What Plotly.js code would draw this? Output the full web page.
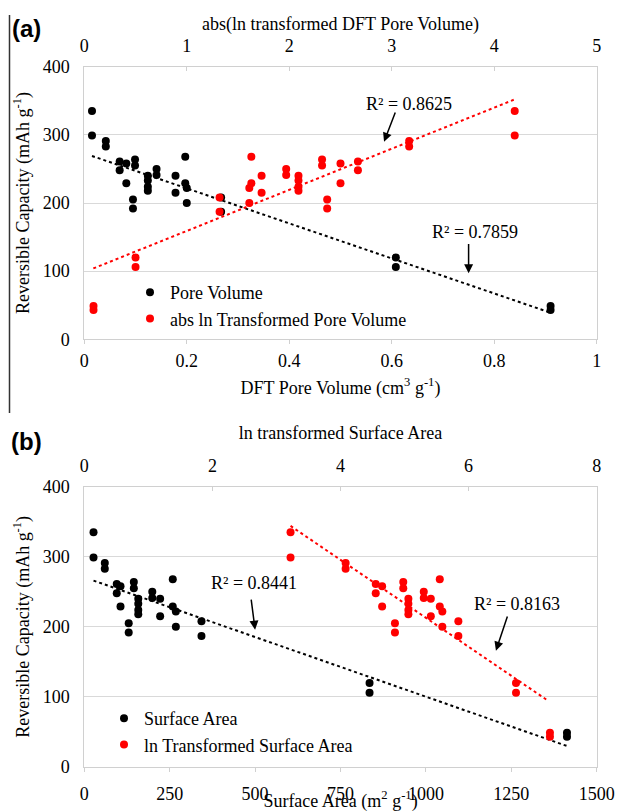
<!DOCTYPE html>
<html>
<head>
<meta charset="utf-8">
<script src="https://cdn.plot.ly/plotly-3.0.1.min.js"></script>
<style>
html,body{margin:0;padding:0;background:#fff;}
#chart{width:618px;height:812px;}
</style>
</head>
<body>
<div id="chart"></div>
<script>
// ---------- DATA ----------
// Reversible capacity of each sample (mAh g-1)
const capacity = [335, 299, 291, 283, 261, 248, 258, 229, 264, 255, 205, 192,
                  240, 233, 224, 218, 250, 241, 240, 215, 268, 229, 222, 200,
                  208, 187, 120, 106, 49, 43];
// Panel (a)
const poreVolume = [0.015, 0.015, 0.042, 0.042, 0.069, 0.069, 0.082, 0.082, 0.099, 0.099, 0.095, 0.095,
                    0.124, 0.124, 0.124, 0.124, 0.141, 0.141, 0.178, 0.178, 0.197, 0.197, 0.200, 0.200,
                    0.267, 0.267, 0.608, 0.608, 0.910, 0.910];
const absLnPoreVolume = [4.20, 4.20, 3.17, 3.17, 2.67, 2.67, 2.50, 2.50, 2.32, 2.32, 2.37, 2.37,
                         2.09, 2.09, 2.09, 2.09, 1.97, 1.97, 1.73, 1.73, 1.63, 1.63, 1.61, 1.61,
                         1.32, 1.32, 0.50, 0.50, 0.09, 0.09];
// Panel (b)
const surfaceArea = [27, 27, 60, 60, 95, 95, 106, 106, 145, 145, 130, 130,
                     158, 158, 158, 158, 199, 199, 222, 222, 259, 259, 268, 268,
                     343, 343, 835, 835, 1413, 1413];
const lnSurfaceArea = [3.22, 3.22, 4.08, 4.08, 4.55, 4.55, 4.65, 4.65, 4.98, 4.98, 4.85, 4.85,
                       5.06, 5.06, 5.06, 5.06, 5.30, 5.30, 5.41, 5.41, 5.55, 5.55, 5.59, 5.59,
                       5.84, 5.84, 6.74, 6.74, 7.27, 7.27];
// Linear trendline end points
const trendPV_x = [0.015, 0.91],  trendPV_y = [269, 39];
const trendLnPV_x = [0.088, 4.2], trendLnPV_y = [104, 352];
const trendSA_x = [27, 1413],     trendSA_y = [266, 30];
const trendLnSA_x = [3.22, 7.25], trendLnSA_y = [344, 94];
// R² labels
const r2Labels = ['R² = 0.8625', 'R² = 0.7859', 'R² = 0.8441', 'R² = 0.8163'];

// ---------- STYLE ----------
const W = 618, H = 812;
const SERIF = 'Liberation Serif';
const px2x = p => p / W;
const px2y = p => 1 - p / H;
const BLACK = '#000000', RED = '#ff0000';
const GRID = '#d9d9d9', FRAME = '#d0d0d0';
const FS = 18;

const mk = (c) => ({color: c, size: 8});

const traces = [
  // panel (a)
  {x: trendPV_x, y: trendPV_y, xaxis: 'x', yaxis: 'y', mode: 'lines', showlegend: false, hoverinfo: 'skip',
   line: {color: BLACK, width: 2, dash: 'dot'}},
  {x: poreVolume, y: capacity, xaxis: 'x', yaxis: 'y', mode: 'markers', name: 'Pore Volume',
   marker: mk(BLACK), legend: 'legend'},
  {x: trendLnPV_x, y: trendLnPV_y, xaxis: 'x2', yaxis: 'y', mode: 'lines', showlegend: false, hoverinfo: 'skip',
   line: {color: RED, width: 2, dash: 'dot'}},
  {x: absLnPoreVolume, y: capacity, xaxis: 'x2', yaxis: 'y', mode: 'markers', name: 'abs ln Transformed Pore Volume',
   marker: mk(RED), legend: 'legend'},
  // panel (b)
  {x: trendSA_x, y: trendSA_y, xaxis: 'x3', yaxis: 'y2', mode: 'lines', showlegend: false, hoverinfo: 'skip',
   line: {color: BLACK, width: 2, dash: 'dot'}},
  {x: surfaceArea, y: capacity, xaxis: 'x3', yaxis: 'y2', mode: 'markers', name: 'Surface Area',
   marker: mk(BLACK), legend: 'legend2'},
  {x: trendLnSA_x, y: trendLnSA_y, xaxis: 'x4', yaxis: 'y2', mode: 'lines', showlegend: false, hoverinfo: 'skip',
   line: {color: RED, width: 2, dash: 'dot'}},
  {x: lnSurfaceArea, y: capacity, xaxis: 'x4', yaxis: 'y2', mode: 'markers', name: 'ln Transformed Surface Area',
   marker: mk(RED), legend: 'legend2'}
];

const xDom = [px2x(84.3), px2x(596.7)];
const yDomA = [px2y(339.3), px2y(66.7)];
const yDomB = [px2y(767), px2y(486.7)];

const tickFont = {family: SERIF, size: FS, color: '#000'};
const titleFont = {family: SERIF, size: FS, color: '#000'};

function xBottom(range, dtick, anchor, title, tls, ts) {
  return {domain: xDom, range: range, dtick: dtick, anchor: anchor, side: 'bottom',
    showgrid: false, zeroline: false, showline: true, linecolor: FRAME, linewidth: 1, mirror: true,
    ticks: 'outside', ticklen: 4, tickcolor: FRAME, tickfont: tickFont, ticklabelstandoff: tls,
    title: {text: title, font: titleFont, standoff: ts}, fixedrange: true};
}
function xTop(range, dtick, over, anchor, title, ts) {
  return {range: range, dtick: dtick, overlaying: over, anchor: anchor, side: 'top',
    showgrid: false, zeroline: false, showline: false,
    ticks: 'inside', ticklen: 4, tickcolor: FRAME, tickfont: tickFont, ticklabelstandoff: 10,
    title: {text: title, font: titleFont, standoff: ts}, fixedrange: true};
}
function yAx(dom, anchor) {
  return {domain: dom, range: [0, 400], dtick: 100, anchor: anchor,
    showgrid: true, gridcolor: GRID, gridwidth: 1, zeroline: false,
    showline: true, linecolor: FRAME, linewidth: 1, mirror: true, ticks: '',
    tickfont: tickFont, ticklabelstandoff: 10,
    title: {text: 'Reversible Capacity (mAh g<sup>-1</sup>)', font: titleFont, standoff: 8}, fixedrange: true};
}

function arrow(xref, yref, ax, ay, x, y) {
  return {xref: xref, yref: yref, axref: xref, ayref: yref, x: x, y: y, ax: ax, ay: ay,
    text: '', showarrow: true, arrowhead: 2, arrowsize: 1.2, arrowwidth: 1.5, arrowcolor: '#000'};
}
function label(xref, yref, x, y, t) {
  return {xref: xref, yref: yref, x: x, y: y, text: t, showarrow: false,
    font: {family: SERIF, size: FS, color: '#000'}, xanchor: 'center', yanchor: 'middle'};
}

const layout = {
  width: W, height: H,
  margin: {l: 0, r: 0, t: 0, b: 0},
  paper_bgcolor: '#fff', plot_bgcolor: '#fff',
  font: {family: SERIF, size: FS, color: '#000'},
  xaxis: xBottom([0, 1], 0.2, 'y', 'DFT Pore Volume (cm<sup>3</sup> g<sup>-1</sup>)', 1, 11),
  xaxis2: xTop([0, 5], 1, 'x', 'y', 'abs(ln transformed DFT Pore Volume)', 0),
  yaxis: yAx(yDomA, 'x'),
  xaxis3: xBottom([0, 1500], 250, 'y2', 'Surface Area (m<sup>2</sup> g<sup>-1</sup>)', 6, 11),
  xaxis4: xTop([0, 8], 2, 'x3', 'y2', 'ln transformed Surface Area', 11),
  yaxis2: yAx(yDomB, 'x3'),
  legend: {x: px2x(130), y: px2y(274), xanchor: 'left', yanchor: 'top', bgcolor: 'rgba(0,0,0,0)',
    font: {family: SERIF, size: FS, color: '#000'}, tracegroupgap: 0},
  legend2: {x: px2x(104), y: px2y(700), xanchor: 'left', yanchor: 'top', bgcolor: 'rgba(0,0,0,0)',
    font: {family: SERIF, size: FS, color: '#000'}, tracegroupgap: 0},
  annotations: [
    label('x', 'y', 0.634, 346, r2Labels[0]),
    arrow('x', 'y', 0.608, 335, 0.585, 290),
    label('x', 'y', 0.763, 157, r2Labels[1]),
    arrow('x', 'y', 0.75, 142, 0.75, 97),
    label('x3', 'y2', 496, 262, r2Labels[2]),
    arrow('x3', 'y2', 488, 241, 500, 196),
    label('x3', 'y2', 1268, 233, r2Labels[3]),
    arrow('x3', 'y2', 1240, 217, 1205, 166),
    {xref: 'paper', yref: 'paper', x: px2x(26), y: px2y(29), text: '<b>(a)</b>', showarrow: false,
     font: {family: 'Liberation Sans', size: 24, color: '#000'}, xanchor: 'center', yanchor: 'middle'},
    {xref: 'paper', yref: 'paper', x: px2x(26), y: px2y(441), text: '<b>(b)</b>', showarrow: false,
     font: {family: 'Liberation Sans', size: 24, color: '#000'}, xanchor: 'center', yanchor: 'middle'}
  ],
  shapes: [
    {type: 'line', xref: 'paper', yref: 'paper', x0: px2x(9.5), x1: px2x(9.5), y0: px2y(15), y1: px2y(413),
     line: {color: '#333', width: 1.5}}
  ]
};

Plotly.newPlot('chart', traces, layout, {displayModeBar: false, staticPlot: true});
</script>
</body>
</html>
